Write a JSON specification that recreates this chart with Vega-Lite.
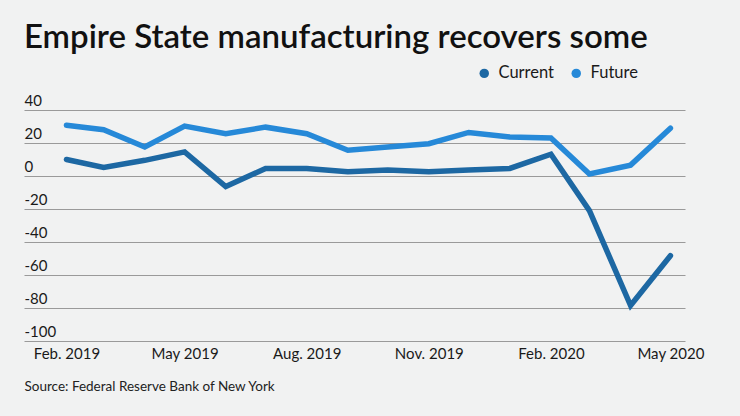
{
  "$schema": "https://vega.github.io/schema/vega-lite/v6.json",
  "width": 661,
  "height": 231,
  "autosize": {"type": "none"},
  "padding": {"left": 24, "top": 110, "right": 55, "bottom": 75},
  "background": "#f1f2f2",
  "title": {
    "text": "Empire State manufacturing recovers some",
    "anchor": "start",
    "frame": "group",
    "font": "Lato",
    "fontSize": 33,
    "fontWeight": 600,
    "color": "#111111",
    "baseline": "alphabetic",
    "offset": -16
  },
  "data": {
    "values": [
      {"date": "2019-02-01", "series": "Current", "value": 10},
      {"date": "2019-03-01", "series": "Current", "value": 5.2},
      {"date": "2019-04-01", "series": "Current", "value": 9.5},
      {"date": "2019-05-01", "series": "Current", "value": 14.6},
      {"date": "2019-06-01", "series": "Current", "value": -6.4},
      {"date": "2019-07-01", "series": "Current", "value": 4.6},
      {"date": "2019-08-01", "series": "Current", "value": 4.6},
      {"date": "2019-09-01", "series": "Current", "value": 2.6},
      {"date": "2019-10-01", "series": "Current", "value": 3.6},
      {"date": "2019-11-01", "series": "Current", "value": 2.6},
      {"date": "2019-12-01", "series": "Current", "value": 3.6},
      {"date": "2020-01-01", "series": "Current", "value": 4.6},
      {"date": "2020-02-01", "series": "Current", "value": 13.2},
      {"date": "2020-03-01", "series": "Current", "value": -21},
      {"date": "2020-04-01", "series": "Current", "value": -78.5},
      {"date": "2020-05-01", "series": "Current", "value": -48.3},
      {"date": "2019-02-01", "series": "Future", "value": 30.8},
      {"date": "2019-03-01", "series": "Future", "value": 28},
      {"date": "2019-04-01", "series": "Future", "value": 17.6},
      {"date": "2019-05-01", "series": "Future", "value": 30.2},
      {"date": "2019-06-01", "series": "Future", "value": 25.6},
      {"date": "2019-07-01", "series": "Future", "value": 29.6},
      {"date": "2019-08-01", "series": "Future", "value": 25.6},
      {"date": "2019-09-01", "series": "Future", "value": 15.6},
      {"date": "2019-10-01", "series": "Future", "value": 17.6},
      {"date": "2019-11-01", "series": "Future", "value": 19.6},
      {"date": "2019-12-01", "series": "Future", "value": 26.4},
      {"date": "2020-01-01", "series": "Future", "value": 23.6},
      {"date": "2020-02-01", "series": "Future", "value": 23},
      {"date": "2020-03-01", "series": "Future", "value": 1.2},
      {"date": "2020-04-01", "series": "Future", "value": 6.6},
      {"date": "2020-05-01", "series": "Future", "value": 29}
    ]
  },
  "mark": {"type": "line", "strokeWidth": 5.5, "strokeCap": "round", "strokeJoin": "miter"},
  "encoding": {
    "x": {
      "field": "date",
      "type": "temporal",
      "scale": {"type": "utc", "domain": ["2018-12-31", "2020-05-12"]},
      "axis": {
        "values": [
          {"year": 2019, "month": 2, "date": 1, "utc": true},
          {"year": 2019, "month": 5, "date": 1, "utc": true},
          {"year": 2019, "month": 8, "date": 1, "utc": true},
          {"year": 2019, "month": 11, "date": 1, "utc": true},
          {"year": 2020, "month": 2, "date": 1, "utc": true},
          {"year": 2020, "month": 5, "date": 1, "utc": true}
        ],
        "labelExpr": "utcFormat(datum.value, '%b') == 'May' ? utcFormat(datum.value, '%b %Y') : utcFormat(datum.value, '%b. %Y')",
        "grid": false,
        "ticks": false,
        "domain": false,
        "labelPadding": 5,
        "labelFont": "Lato",
        "labelFontSize": 15,
        "labelColor": "#1a1a1a",
        "labelFlush": false,
        "title": "Source: Federal Reserve Bank of New York",
        "titleAnchor": "start",
        "titleAlign": "left",
        "titleFont": "Lato",
        "titleFontSize": 13.5,
        "titleFontWeight": 400,
        "titleColor": "#222222",
        "titlePadding": 18
      }
    },
    "y": {
      "field": "value",
      "type": "quantitative",
      "scale": {"domain": [-100, 40], "nice": false, "zero": false},
      "axis": {
        "values": [-100, -80, -60, -40, -20, 0, 20, 40],
        "labelExpr": "datum.value + ''",
        "title": null,
        "grid": true,
        "gridColor": "#9a9a9a",
        "gridWidth": 1.2,
        "ticks": false,
        "domain": false,
        "labelAlign": "left",
        "labelBaseline": "bottom",
        "labelPadding": 0,
        "labelOffset": -2,
        "labelFont": "Lato",
        "labelFontSize": 15,
        "labelColor": "#1a1a1a"
      }
    },
    "color": {
      "field": "series",
      "type": "nominal",
      "scale": {"domain": ["Current", "Future"], "range": ["#1d68a3", "#2689d8"]},
      "legend": {
        "title": null,
        "orient": "none",
        "legendX": 452,
        "legendY": -45,
        "direction": "horizontal",
        "symbolType": "circle",
        "symbolSize": 90,
        "labelFont": "Lato",
        "labelFontSize": 16.5,
        "labelColor": "#1a1a1a",
        "labelOffset": 6,
        "columnPadding": 14,
        "encode": {
          "symbols": {
            "update": {
              "fill": {"scale": "color", "field": "value"},
              "strokeWidth": {"value": 0}
            }
          }
        }
      }
    }
  },
  "config": {
    "view": {"stroke": null}
  }
}
